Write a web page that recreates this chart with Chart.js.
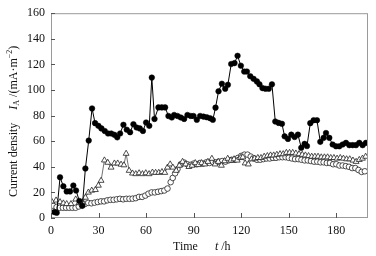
<!DOCTYPE html>
<html>
<head>
<meta charset="utf-8">
<style>
  html, body { margin: 0; padding: 0; background: #fff; }
  #wrap { width: 376px; height: 256px; position: relative; }
</style>
<script src="https://cdn.jsdelivr.net/npm/chart.js@4/dist/chart.umd.min.js"></script>
</head>
<body>
<div id="wrap"><canvas id="chart"></canvas></div>
<script>
// ---- data (time in h, current density in mA/m2) ----
const tSolid = [2.1, 3.6, 5.7, 7.8, 9.9, 12, 14.1, 15.8, 17.9, 19.8, 21.7, 23.8, 25.9, 27.8, 29.9, 31.8,
  33.9, 36, 38, 40, 41.8, 43.6, 45.7, 47.8, 49.9, 52, 54, 56, 58, 60, 62, 63.6, 65.3, 67.8, 69.9, 72,
  74.1, 76.2, 77.7, 79.8, 81.9, 84, 86.1, 88.2, 89.9, 92, 94.1, 96.2, 98.3, 100.4, 102.1, 103.8, 105.7,
  107.8, 109.9, 111.6, 113.7, 115.8, 117.7, 119.8, 121.9, 123.6, 125.7, 127.8, 129.9, 131.5, 133.4,
  135.3, 137.4, 139.4, 141.5, 143.6, 145.7, 147.4, 149.5, 151.6, 153.7, 155.8, 157.9, 160, 161.5,
  163.6, 165.7, 167.8, 169.9, 172, 173.5, 175.6, 177.7, 179.8, 181.9, 184, 186.1, 188.2, 190.3, 192.4,
  194.5, 196.6, 198.7];
const iSolid = [4.6, 4.1, 31.8, 24.8, 20.8, 20.8, 25.4, 21.5, 13.3, 9.5, 38.7, 60.5, 85.6, 74.1, 72, 70,
  68, 66, 66, 65, 63, 66, 72.8, 69, 67, 73.3, 70.7, 70, 68, 74.6, 72, 109.7, 77.4, 86.4, 86.4, 86.4,
  79.7, 78.5, 80.5, 79.7, 78.5, 77.4, 80.5, 79.7, 79.7, 76.7, 79.7, 79.2, 78.7, 77.9, 76.7, 86.2, 99,
  104.9, 101, 104.1, 120.3, 121, 126.7, 119, 114.4, 114.4, 110.8, 108.7, 106.7, 104.5, 101.5,
  101, 101, 104.4, 75.4, 74.3, 73.6, 63.8, 61.8, 65.1, 63.3, 65.1, 54.9, 57.9, 56.2,
  74.1, 76.4, 76.4, 59.5, 62.6, 66.4, 62.6, 57.4, 56, 56, 57.4, 58.7, 56.9, 56.9, 56.9,
  58.7, 56.9, 58.7];

const tTri = [0.4, 3.2, 5.7, 7.8, 9.9, 12.6, 15.6, 17.7, 19.8, 21.7, 23.6, 25.7, 28, 29.9, 31.6, 33.7,
  35.8, 37.9, 40, 42.1, 44.2, 46, 47.4, 49.3, 51.4, 53.5, 55.6, 57.7, 59.8, 61.9, 64, 66, 68, 70, 71.8,
  73.5, 75.2, 76.9, 79, 81, 83, 85, 87, 89, 91, 93, 95, 97, 99, 101.5, 103.5, 105.5, 107.5, 109.5,
  111.5, 113.5, 115.5, 117.5, 119.5, 121, 122.5, 124.5, 126.5, 128.5, 130.5, 132.5, 134.5, 136.5,
  138.5, 140.5, 142.5, 144.5, 146.5, 148.5, 150.5, 152.5, 154.5, 156.5, 158.5, 160.5, 162.5, 164.5,
  166.5, 168.5, 170.5, 172.5, 174.5, 176.5, 178.5, 180.5, 182.5, 184.5, 186.5, 188.5, 190.5, 192.5,
  194.5, 196.5, 198.5];
const iTri = [13, 13.8, 12.5, 11.5, 11, 11, 14.6, 11.8, 12, 16, 20, 21.5, 22, 25.4, 29.2, 45.1,
  43.3, 39.5, 42.7, 42.7, 41.8, 41.3, 50.3, 37, 34.9, 34.4, 35.1, 34.4, 35.1, 34.4, 35.6, 35.4, 35.4, 36, 35.4,
  39.5, 42, 39.5, 37, 41, 44, 42, 40, 41, 43, 41.5, 43, 42, 44, 46.4, 42, 44, 41, 44.5,
  46.4, 45, 46, 45, 47, 47.5, 42.8, 42, 46, 46.5, 47, 47, 48, 48.5,
  49, 49, 49.5, 50, 50, 51, 51, 51, 50.5, 50, 49.5, 49, 48.5, 48,
  48, 48, 47.5, 47.5, 47.5, 47, 47, 46.5, 47, 46.5, 46, 46, 45, 44,
  45.5, 46.5, 48];

const tCirc = [1.5, 3.5, 5.5, 7.5, 9.5, 11.5, 13.5, 15.5, 17.5, 19.5, 21.5, 23.5, 25.5, 27.5, 29.5, 31.5,
  33.5, 35.5, 37.5, 39.5, 41.5, 43.5, 45.5, 47.5, 49.5, 51.5, 53.5, 55.5, 57.5, 59.5, 61.5, 63.5, 65.5,
  67.5, 69.5, 71.5, 73.5, 75.5, 76.8, 78.3, 79.8, 81.9, 84, 86, 88, 90, 92, 94, 96, 98, 100, 102, 104,
  106, 108, 110, 112, 114, 116, 118, 120, 122, 124, 126, 128, 130, 132, 134, 136, 138, 140, 142, 144,
  146, 148, 150, 152, 154, 156, 158, 160, 162, 164, 166, 168, 170, 172, 174, 176, 178, 180, 182, 184,
  186, 188, 190, 192, 194, 196, 198];
const iCirc = [9.5, 8.5, 8, 8, 8, 8, 8, 8, 9, 10, 11, 11.8, 11.5, 12, 12.5, 13,
  13, 13.8, 14.2, 14.2, 14.6, 15, 14.6, 15, 15, 15.1, 15.5, 16.5, 16.5, 17.5, 19, 20, 20,
  20.5, 21, 21.5, 23, 28, 31.3, 34.9, 38.2, 42, 43.3, 42, 41.5, 42.5, 42, 43, 42.5, 43.5, 43, 44, 43.5,
  44, 44.5, 44, 45, 45.5, 45.5, 47, 48.5, 49.5, 49.5, 48, 46.5, 45.5, 45.5, 46, 46.5, 46.5, 47, 47, 47.5,
  47.5, 47.5, 47, 46.5, 46, 46, 45.5, 45, 45, 44.5, 44, 44, 43.5, 43.5, 43, 43, 42, 42, 41, 41,
  40.5, 40, 39, 39, 37.5, 36, 36.5];

const xTicks = [0, 30, 60, 90, 120, 150, 180];
const yTicks = [0, 20, 40, 60, 80, 100, 120, 140, 160];

const SERIF = '"Liberation Serif", "Times New Roman", serif';

function pts(xs, ys) {
  return xs.map((x, i) => ({ x: x, y: ys[i] }));
}

// frame, inward tick marks and the rich axis titles
const framePlugin = {
  id: 'frame',
  afterDraw(chart) {
    const ctx = chart.ctx;
    const a = chart.chartArea;
    const xs = chart.scales.x, ys = chart.scales.y;
    ctx.save();
    ctx.strokeStyle = '#9a9a9a';
    ctx.lineWidth = 1;
    ctx.strokeRect(a.left + 0.5, a.top + 0.5, a.right - a.left - 1, a.bottom - a.top - 1);

    ctx.strokeStyle = '#555';
    ctx.beginPath();
    xTicks.forEach(v => {
      const px = Math.round(xs.getPixelForValue(v)) + 0.5;
      ctx.moveTo(px, a.bottom);
      ctx.lineTo(px, a.bottom - 5);
    });
    yTicks.forEach(v => {
      const py = Math.round(ys.getPixelForValue(v)) + 0.5;
      ctx.moveTo(a.left, py);
      ctx.lineTo(a.left + 4, py);
    });
    ctx.stroke();

    ctx.fillStyle = '#111';
    ctx.textAlign = 'left';

    function drawParts(parts, x0, y0) {
      let x = x0;
      parts.forEach(p => {
        ctx.font = p.font;
        ctx.fillText(p.text, x, y0 + (p.dy || 0));
        x += ctx.measureText(p.text).width + (p.gap || 0);
      });
    }

    // y title, rotated
    ctx.save();
    ctx.textBaseline = 'middle';
    ctx.translate(14, 197);
    ctx.rotate(-Math.PI / 2);
    drawParts([
      { text: 'Current density', font: '12px ' + SERIF, gap: 13 },
      { text: 'I', font: 'italic 12px ' + SERIF },
      { text: 'A', font: '8px ' + SERIF, dy: 3, gap: 3 },
      { text: '/(mA·m', font: '12px ' + SERIF },
      { text: '−2', font: '8px ' + SERIF, dy: -4 },
      { text: ')', font: '12px ' + SERIF }
    ], 0, 0);
    ctx.restore();

    // x title
    ctx.textBaseline = 'alphabetic';
    drawParts([
      { text: 'Time', font: '12px ' + SERIF, gap: 17 },
      { text: 't', font: 'italic 12px ' + SERIF },
      { text: ' /h', font: '12px ' + SERIF }
    ], 173, 250);

    ctx.restore();
  }
};

new Chart(document.getElementById('chart'), {
  type: 'line',
  data: {
    datasets: [
      {
        label: 'solid',
        data: pts(tSolid, iSolid),
        borderColor: '#000',
        borderWidth: 1,
        pointStyle: 'circle',
        pointRadius: 2.8,
        pointBackgroundColor: '#000',
        pointBorderColor: '#000',
        pointBorderWidth: 0.5
      },
      {
        label: 'triangle',
        data: pts(tTri, iTri),
        borderColor: '#333',
        borderWidth: 0.7,
        pointStyle: 'triangle',
        pointRadius: 3.4,
        pointBackgroundColor: '#fff',
        pointBorderColor: '#222',
        pointBorderWidth: 0.8
      },
      {
        label: 'circle',
        data: pts(tCirc, iCirc),
        borderColor: '#333',
        borderWidth: 0.7,
        pointStyle: 'circle',
        pointRadius: 2.8,
        pointBackgroundColor: '#fff',
        pointBorderColor: '#222',
        pointBorderWidth: 0.8
      }
    ]
  },
  options: {
    responsive: true,
    maintainAspectRatio: false,
    animation: false,
    layout: { padding: { top: 10, right: 8, left: 0, bottom: 0 } },
    plugins: {
      legend: { display: false },
      tooltip: { enabled: false }
    },
    scales: {
      x: {
        type: 'linear',
        min: 0,
        max: 200,
        afterFit: s => { s.height = 38; },
        afterBuildTicks: s => { s.ticks = xTicks.map(v => ({ value: v })); },
        grid: { display: false, drawTicks: false },
        border: { display: false },
        ticks: {
          padding: 6,
          color: '#111',
          maxRotation: 0,
          font: { family: SERIF, size: 12 }
        }
      },
      y: {
        min: 0,
        max: 160,
        afterFit: s => { s.width = 51; },
        afterBuildTicks: s => { s.ticks = yTicks.map(v => ({ value: v })); },
        grid: { display: false, drawTicks: false },
        border: { display: false },
        ticks: {
          padding: 6,
          color: '#111',
          font: { family: SERIF, size: 12 }
        }
      }
    }
  },
  plugins: [framePlugin]
});
</script>
</body>
</html>
